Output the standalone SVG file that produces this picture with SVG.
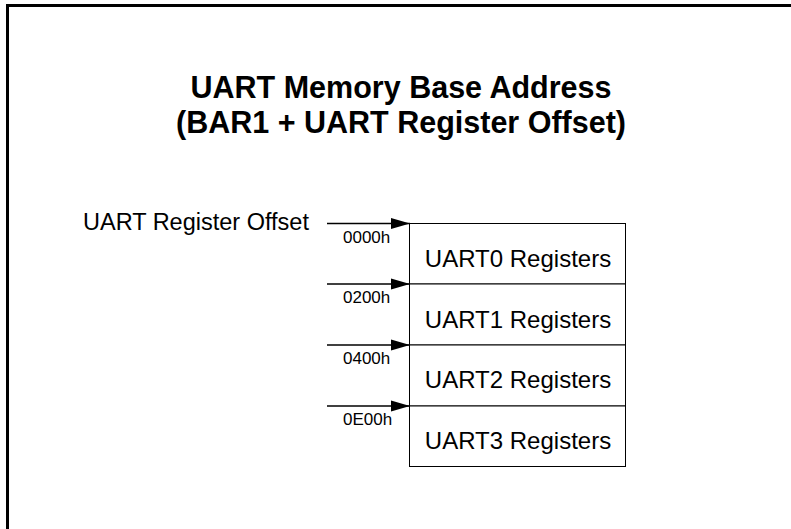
<svg xmlns="http://www.w3.org/2000/svg" width="791" height="529" viewBox="0 0 791 529">
<style>
.title{font-family:"Liberation Sans",Arial,sans-serif;font-weight:bold;font-size:30.5px;fill:#000;text-anchor:middle}
.lbl{font-family:"Liberation Sans",Arial,sans-serif;font-size:23.5px;fill:#000}
.reg{font-family:"Liberation Sans",Arial,sans-serif;font-size:24px;fill:#000;text-anchor:middle}
.off{font-family:"Liberation Sans",Arial,sans-serif;font-size:17px;fill:#000}
.cell{fill:#fff;stroke:#000;stroke-width:1}
.conn{stroke:#000;stroke-width:1.3;fill:none;marker-end:url(#ah)}
</style>
<defs>
<marker id="ah" markerUnits="userSpaceOnUse" markerWidth="20" markerHeight="12" refX="19" refY="6" orient="auto">
<path d="M0,0.5 L19,6 L0,11.5 Z" fill="#000"/>
</marker>
</defs>
<rect x="0" y="0" width="791" height="529" fill="#fff"/>
<rect x="7.5" y="5.5" width="800" height="540" fill="none" stroke="#000" stroke-width="3"/>
<g id="title">
<text class="title" x="401" y="98">UART Memory Base Address</text>
<text class="title" x="401" y="133">(BAR1 + UART Register Offset)</text>
</g>
<g id="offset-label">
<text class="lbl" x="83" y="230">UART Register Offset</text>
</g>
<g id="uart0"><rect class="cell" x="409.5" y="223.5" width="216" height="60.5"/><text class="reg" x="518" y="267">UART0 Registers</text></g>
<g id="uart1"><rect class="cell" x="409.5" y="284" width="216" height="61"/><text class="reg" x="518" y="328">UART1 Registers</text></g>
<g id="uart2"><rect class="cell" x="409.5" y="345" width="216" height="61"/><text class="reg" x="518" y="388">UART2 Registers</text></g>
<g id="uart3"><rect class="cell" x="409.5" y="406" width="216" height="60.5"/><text class="reg" x="518" y="449">UART3 Registers</text></g>
<g id="connectors">
<line class="conn" x1="327" y1="223.5" x2="410" y2="223.5"/>
<line class="conn" x1="327" y1="284" x2="410" y2="284"/>
<line class="conn" x1="327" y1="345" x2="410" y2="345"/>
<line class="conn" x1="327" y1="406" x2="410" y2="406"/>
</g>
<g id="offsets">
<text class="off" x="343" y="243">0000h</text>
<text class="off" x="343" y="303">0200h</text>
<text class="off" x="343" y="364">0400h</text>
<text class="off" x="343" y="425">0E00h</text>
</g>
</svg>
